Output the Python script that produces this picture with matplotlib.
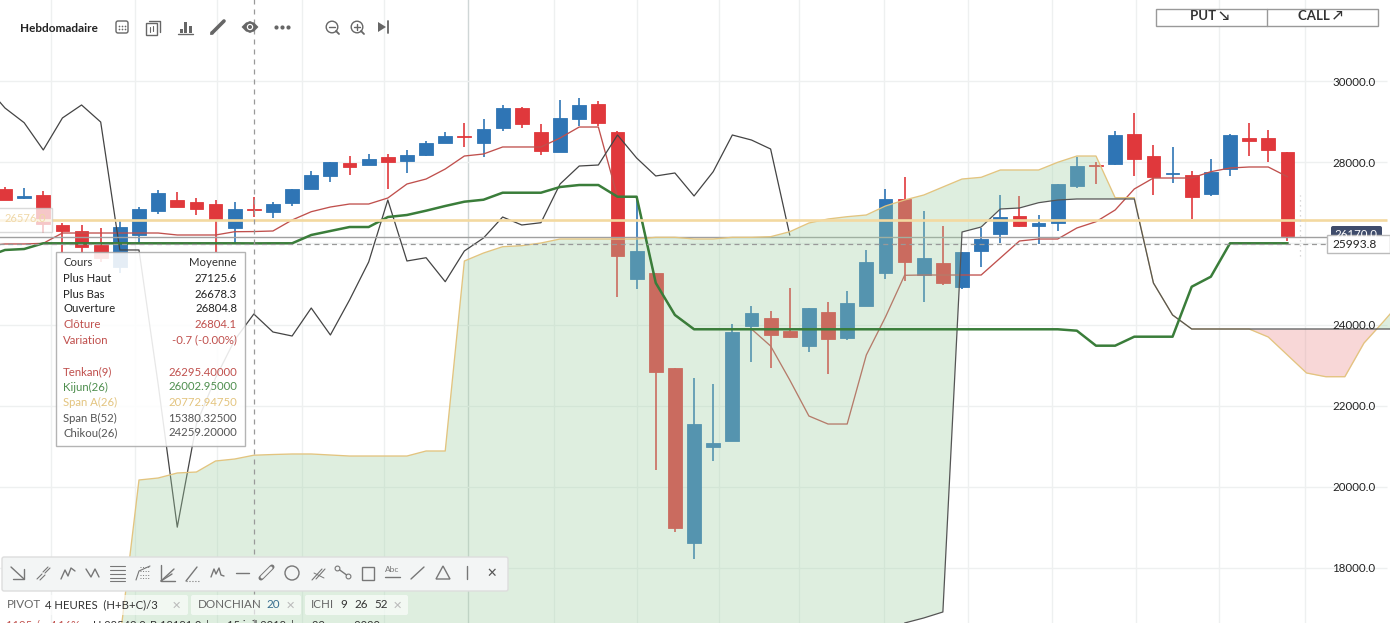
import numpy as np
import matplotlib
matplotlib.use("Agg")
import matplotlib.pyplot as plt
from matplotlib.patches import Rectangle, FancyBboxPatch, Circle, Polygon

plt.rcParams['font.family'] = ['Lato', 'DejaVu Sans']

# weekly candles
opens = [27346,27123,27190,26457,26301,25963,25412,26203,26810,27074,27025,26975,26390,26840,26785,27007,27346,27674,
         27988,27946,28136,28037,28185,28489,28665,28489,28859,29345,28753,28267,29081,29444,28753,25131,25272,22926,
         18613,20983,21131,23963,24160,23840,23477,24309,23674,24464,25279,27099,25215,25518,24933,25822,26235,26679,
         26432,26506,27420,27943,27963,28704,28160,27716,27691,27222,27839,28597,28605,28259]
highs = [27407,27370,27296,26513,26457,26383,26555,26901,27321,27272,27123,27074,27025,27148,27025,27346,27790,28012,
         28160,28210,28210,28309,28531,28753,28975,29074,29420,29370,28950,29543,29592,29518,28778,27074,25272,22926,
         22672,22524,24005,24457,24333,24894,24407,24548,24827,25840,27346,27642,26802,26432,25790,26383,27197,27173,
         26704,27469,28143,28020,28778,29222,28432,28383,27790,28086,28704,28975,28802,28259]
lows = [27086,27099,26267,25765,25765,25543,25272,26012,26728,26901,26704,25790,26020,26662,26630,26926,27346,27526,
        27691,27946,27338,27733,28168,28489,28390,28143,28785,28859,28192,28267,28908,28901,24686,24884,20408,18884,
        18203,20637,21131,23082,22933,23659,23328,22785,23625,24464,25131,25082,24563,24975,24884,25427,26005,26407,
        25988,26309,27370,27469,27938,27667,27197,27494,26605,27173,27667,28160,28012,26062]
closes = [27086,27173,26481,26316,25921,25642,26407,26852,27247,26909,26859,26580,26852,26815,26975,27346,27691,28012,
          27889,28086,28020,28185,28481,28654,28640,28827,29345,28958,28291,29099,29420,28983,25699,25815,22835,18983,
          21543,21074,23815,24284,23748,23699,24407,23650,24531,25543,27099,25551,25642,25032,25790,26111,26654,26432,
          26506,27469,27913,27918,28679,28086,27642,27741,27148,27765,28679,28531,28309,26185]

# ichimoku lines, the first point of the first three sits one week before the first candle
tenkan = [25940,25988,25988,26005,26259,26259,26259,26259,26259,26259,26210,26210,26210,26291,26295,26309,26580,26785,
          26901,26975,26975,27123,27469,27592,27839,28160,28210,28383,28383,28383,28605,28876,28876,27148,27148,25025,
          24235,23889,23889,23889,23889,23469,22630,21741,21543,21543,23247,24185,25215,25222,25222,25222,25222,25642,
          26062,26111,26111,26383,26538,26827,27346,27617,27617,27617,27773,27864,27889,27889,27649]
kijun = [25667,25840,25864,26005,26005,26005,26005,26005,26005,26005,26005,26005,26005,26005,26003,26005,26005,26210,
         26309,26407,26407,26654,26704,26810,26926,27032,27081,27254,27254,27254,27395,27444,27444,27155,27155,25025,
         24235,23882,23882,23882,23882,23882,23882,23882,23882,23882,23882,23882,23882,23882,23882,23882,23882,23882,
         23882,23882,23882,23847,23477,23477,23699,23699,23699,24933,25180,26005,26005,26005,26005]
chikou = [29889,29345,28983,28309,29099,29420,28999,25840,25840,22531,18996,21543,22679,23617,24259,23815,23716,24407,
          23741,24605,25543,27074,25568,25649,25057,25815,26136,26654,26457,26513,27469,27913,27938,28679,28111,27667,
          27741,27173,27773,28679,28555,28333,26210]
span_a = [16210,20161,20210,20334,20358,20630,20679,20773,20790,20803,20803,20778,20753,20753,20753,20753,20877,20877,
          25568,25765,25921,25946,26012,26111,26111,26111,26111,26111,26153,26153,26111,26111,26153,26153,26168,26291,
          26506,26605,26662,26704,26926,27074,27197,27395,27592,27634,27815,27815,27815,28005,28160,28160,27131,27131,
          25025,24235,23889,23889,23889,23889,23691,23247,22803,22711,22711,23543,24062,24605]
span_b = [15380] * 41 + [16630,16754,16902,26284,26407,26852,26877,27007,27074,27099,27099,27099,27099,
                         25025,24235] + [23889] * 12

week_grid = [2.4,6.8,11.1,15.5,19.8,24.2,28.7,33,37.3,41.5,45.9,50.3,54.7,59.1,63.4,67.9]
price_ticks = [18000,20000,22000,24000,26000,28000,30000]
price_labels = ["18000.0","20000.0","22000.0","24000.0","","28000.0","30000.0"]
alert_level = 26576.0
last_level = 26170.0
cross_level = 25993.8
cross_week = 13

tooltip_rows = [("Cours","Moyenne","#333333"),("Plus Haut","27125.6","#222222"),("Plus Bas","26678.3","#222222"),
                ("Ouverture","26804.8","#222222"),("Clôture","26804.1","#c0504d"),("Variation","-0.7 (-0.00%)","#c0504d"),
                ("Tenkan(9)","26295.40000","#c0504d"),("Kijun(26)","26002.95000","#4f8f4f"),
                ("Span A(26)","20772.94750","#e3c47f"),("Span B(52)","15380.32500","#555555"),
                ("Chikou(26)","24259.20000","#555555")]
tooltip_y = [263,279,294,309,325,340,372,387,402,418,433]

blue = "#2f75b5"
red = "#e0383c"

fig = plt.figure(figsize=(13.9, 6.23), dpi=100)
ax = fig.add_axes([0, 0, 1, 1])
ax.set_xlim(-0.261, 72.36)
ax.set_ylim(32012 - 24.69 * 623, 32012)
ax.axis("off")

# grid
for w in week_grid:
    ax.axvline(w, color="#cfd6d6" if w == 24.2 else "#eef0f0", lw=1, zorder=1)
ax.hlines(price_ticks, -1, 72.2, color="#eef0f0", lw=1, zorder=1)

# candles
for i in range(len(opens)):
    col = blue if closes[i] > opens[i] else red
    ax.vlines(i, lows[i], highs[i], color=col, lw=1.2, zorder=2)
    ax.bar(i, abs(closes[i] - opens[i]), bottom=min(opens[i], closes[i]), width=0.72,
           color=col, edgecolor=col, lw=0.6, zorder=2)

weeks = np.arange(len(span_a)) + 6
span_a = np.array(span_a)
span_b = np.array(span_b)

ax.plot(np.arange(len(tenkan)) - 1, tenkan, color="#c0504d", lw=0.95, zorder=3)
ax.plot(np.arange(len(chikou)) - 1, chikou, color="#444444", lw=0.9, zorder=3)

# cloud goes over the candles, that is why they look washed out in it
ax.fill_between(weeks, span_a, span_b, where=span_a >= span_b, interpolate=True,
                color="#a1d0a4", alpha=0.34, lw=0, zorder=4)
ax.fill_between(weeks, span_a, span_b, where=span_a <= span_b, interpolate=True,
                color="#eb8a8a", alpha=0.34, lw=0, zorder=4)
ax.plot(weeks, span_a, color="#e3c47f", lw=0.95, zorder=5)
ax.plot(weeks, span_b, color="#555555", lw=0.9, zorder=5)
ax.plot(np.arange(len(kijun)) - 1, kijun, color="#3a7d3a", lw=1.8, zorder=5,
        solid_joinstyle="round")

# levels and crosshair
ax.hlines(last_level, -1, 72.2, color="#a0a0a0", lw=1.0, zorder=3)
ax.hlines(alert_level, -1, 72.2, color="#f3d9a0", lw=1.9, zorder=6)
ax.hlines(cross_level, -1, 69, color="#999999", lw=0.9, ls=(0, (4, 3)), zorder=6)
ax.vlines(cross_week, 16000, 33000, color="#999999", lw=0.9, ls=(0, (4, 4)), zorder=6)
ax.vlines(67.65, 25700, 27200, color="#cccccc", lw=0.9, ls=(0, (1, 3)), zorder=6)

# page furniture is placed in pixels on a second axes
ui = fig.add_axes([0, 0, 1, 1], zorder=10)
ui.set_xlim(0, 1390)
ui.set_ylim(623, 0)
ui.axis("off")
ui.patch.set_alpha(0)


def ln(xs, ys, col="#666666", lw=1.0, ls="-"):
    ui.plot(xs, ys, color=col, lw=lw, ls=ls, solid_capstyle="round")


# right axis
for t, lab in zip(price_ticks, price_labels):
    py = (32012 - t) / 24.69 + 0.7
    ui.text(1332, py, lab, fontsize=8.3, color="#222222", va="center")

# tags on the axis
ui.add_patch(FancyBboxPatch((1331, 226), 51, 12, boxstyle="round,pad=0,rounding_size=2", fc="#3f4c6b", ec="none"))
ui.text(1356, 234, "26170.0", color="white", fontsize=8.3, ha="center", va="center")
ui.add_patch(Rectangle((1327, 235), 63, 18, fc="white", ec="#bbbbbb", lw=1))
ui.text(1332, 244, "25993.8", fontsize=8.6, color="#222222", va="center")
ui.add_patch(Rectangle((-2, 208), 54, 24, fc="white", ec="#cccccc", lw=1, alpha=0.72))
ui.text(5, 218, "26576.0", fontsize=8, color="#f0d8a8", va="center")

# tooltip
ui.add_patch(Rectangle((55.5, 251.5), 189, 194, fc="white", ec="#aaaaaa", lw=1, alpha=0.88))
for (left, right, col), py in zip(tooltip_rows, tooltip_y):
    ui.text(63, py, left, fontsize=8.2, color=col, va="center")
    ui.text(237, py, right, fontsize=8.2, color=col, va="center", ha="right")

# top toolbar
ui.text(20, 28, "Hebdomadaire", fontsize=8.5, fontweight="bold", color="#222222", va="center")
g = "#666666"
ui.add_patch(FancyBboxPatch((116, 21), 12, 12, boxstyle="round,pad=0,rounding_size=2", fc="none", ec=g, lw=1))
ui.scatter([119, 122, 125, 119, 122, 125], [26, 26, 26, 29, 29, 29], s=1.5, color=g, lw=0)
ui.add_patch(Rectangle((146, 23), 11, 12, fc="white", ec=g, lw=1))
ln([149, 160, 160], [21, 21, 32], g, 1)
ln([150, 150], [27, 32], g, 0.8)
ln([153, 153], [26, 31], g, 0.8)
ui.bar([181, 185, 190], [4, 11, 7], bottom=[29, 22, 26], width=3, color=g)
ln([178, 193], [33.5, 33.5], g, 1)
ln([212, 224], [33, 21], g, 2.6)
ui.add_patch(Polygon([[211, 31], [214, 34], [210, 35]], fc=g, ec="none"))
ui.add_patch(Polygon([[242, 27], [246, 23], [250, 21.5], [254, 23], [258, 27], [254, 31], [250, 32.5], [246, 31]], fc=g, ec=g, lw=0.5))
ui.add_patch(Circle((250, 27), 3.2, fc="white", ec="none"))
ui.add_patch(Circle((250, 27), 2, fc=g, ec="none"))
ui.scatter([276, 282, 288], [27, 27, 27], s=9, color=g, lw=0)
for cx, plus in [(332, False), (357, True)]:
    ui.add_patch(Circle((cx, 27), 5.8, fc="none", ec=g, lw=1))
    ln([cx - 3, cx + 3], [27, 27], g, 1)
    ln([cx + 4, cx + 7], [31, 34], g, 1.3)
    if plus:
        ln([cx, cx], [24, 30], g, 1)
ui.add_patch(Polygon([[378, 22], [386, 27], [378, 32]], fc=g, ec="none"))
ln([387.5, 387.5], [21, 33], g, 1.3)

# put / call
ui.add_patch(Rectangle((1155.5, 8.5), 222, 17, fc="white", ec="#999999", lw=1))
ln([1266.5, 1266.5], [8.5, 25.5], "#999999", 1)
ui.text(1210, 16.5, "PUT ↘", fontsize=9.5, fontweight="bold", color="#333333", ha="center", va="center")
ui.text(1320, 16.5, "CALL ↗", fontsize=9.5, fontweight="bold", color="#333333", ha="center", va="center")

# drawing toolbar
ui.add_patch(FancyBboxPatch((2, 557), 506, 34, boxstyle="round,pad=0,rounding_size=2", fc="#f3f5f5", ec="#dddddd", lw=1))
c = "#777777"
y0 = 573
ln([11, 24], [567, 579], c); ln([24, 24, 13], [569, 579, 579], c)
ln([37, 42], [579, 574], c, 0.8); ln([43, 48], [572, 567], c, 0.8); ln([40, 45], [580, 575], c, 0.8); ln([45, 50], [573, 568], c, 0.8)
ln([61, 65, 68, 71, 75], [579, 570, 576, 568, 571], c)
ln([86, 91, 95, 99], [569, 577, 569, 577], c)
for yy in [566, 570, 574, 578, 581]:
    ln([110, 125], [yy, yy], c, 0.8)
ln([136, 139, 150], [580, 571, 566], c, 0.8)
for yy in [567, 571, 575, 578]:
    ln([140, 150], [yy, yy], c, 0.7, ":")
ln([161, 161, 175], [565, 581, 581], c)
ln([161, 174], [581, 569], c); ln([161, 172], [581, 574], c)
ln([186, 197], [581, 567], c); ln([186, 200], [581, 581], c, 0.8, ":")
ln([211, 214, 216, 219, 221, 224], [577, 569, 574, 568, 575, 576], c)
ln([236, 249], [573, 573], c)
ln([261, 272], [578, 567], c, 3.6)
ln([262, 271], [577, 568], "#f3f5f5", 2.2)
ui.add_patch(Circle((292, y0), 7, fc="none", ec=c, lw=1))
ln([312, 322], [580, 569], c, 0.8); ln([316, 325], [579, 569], c, 0.8); ln([314, 324], [573, 578], c, 0.7)
ln([337, 348], [568, 576], c); ui.scatter([337, 348], [568, 576], s=12, fc="#f3f5f5", ec=c, lw=0.8, zorder=5)
ui.add_patch(Rectangle((361.5, 566.5), 12, 13, fc="none", ec=c, lw=1))
ui.text(392, 570, "Abc", fontsize=6, color=c, ha="center", va="center")
ln([385, 400], [577, 577], c)
ln([411, 424], [579, 567], c)
ui.add_patch(Polygon([[443, 566], [450, 579], [436, 579]], fc="none", ec=c, lw=1))
ln([467, 467], [566, 579], c)
ui.text(492, 572.5, "✕", fontsize=9, fontweight="bold", color="#555555", ha="center", va="center")

# indicator chips
for x, w in [(2, 186), (191, 110), (305, 103)]:
    ui.add_patch(FancyBboxPatch((x, 595), w, 20, boxstyle="round,pad=0,rounding_size=2", fc="white", ec="none", alpha=0.62))
fs = 8.4
ui.text(7, 605, "PIVOT", fontsize=fs, color="#666666", va="center")
ui.text(45, 605, "4 HEURES  (H+B+C)/3", fontsize=8.2, color="#333333", va="center")
ui.text(176, 605, "✕", fontsize=8, fontweight="bold", color="#bbbbbb", ha="center", va="center")
ui.text(198, 605, "DONCHIAN", fontsize=fs, color="#666666", va="center")
ui.text(266, 605, "20", fontsize=fs, color="#3a6f8f", va="center")
ui.text(290, 605, "✕", fontsize=8, fontweight="bold", color="#bbbbbb", ha="center", va="center")
ui.text(311, 605, "ICHI", fontsize=fs, color="#666666", va="center")
ui.text(340, 605, "9", fontsize=fs, color="#333333", va="center")
ui.text(354, 605, "26", fontsize=fs, color="#333333", va="center")
ui.text(374, 605, "52", fontsize=fs, color="#333333", va="center")
ui.text(397, 605, "✕", fontsize=8, fontweight="bold", color="#bbbbbb", ha="center", va="center")

# the status line is cut off by the bottom of the picture, as in the reference
status = [(6, "1195 /", "#c0504d"), (50, "4.16%", "#c0504d"), (93, "H 28549.0", "#333333"), (150, "B 18181.0", "#333333"),
          (206, "|", "#333333"), (227, "15 juil 2018", "#333333"), (291, "|", "#333333"), (312, "29 mars 2020", "#333333")]
for x, text, col in status:
    ui.text(x, 625.5, text, fontsize=8, color=col, va="center")

fig.savefig("out.png", dpi=100)
